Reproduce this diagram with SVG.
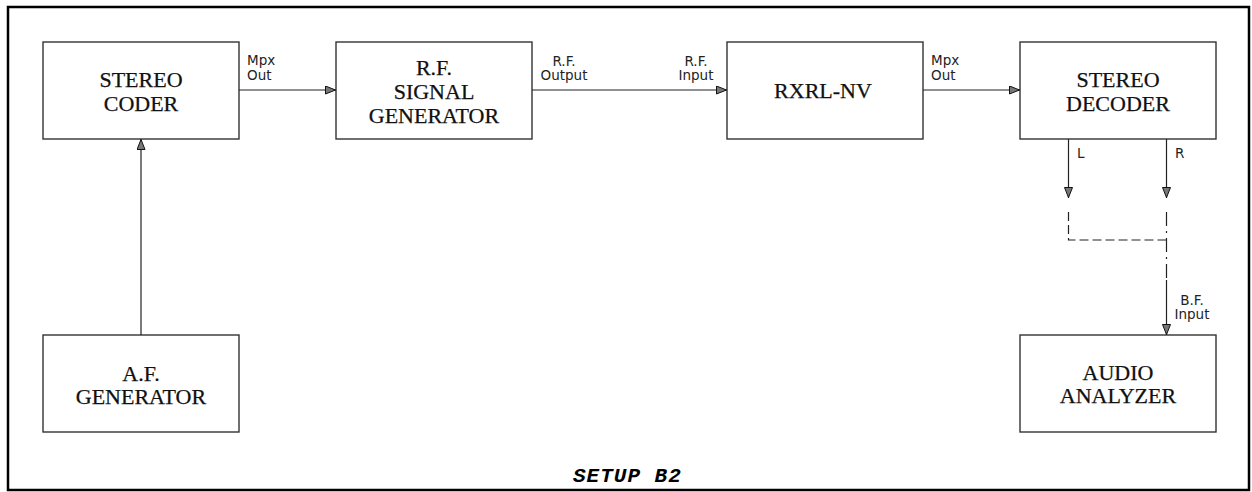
<svg xmlns="http://www.w3.org/2000/svg" width="1252" height="492" viewBox="0 0 1252 492">
  <style>
    .box { fill: #fff; stroke: #333; stroke-width: 1.4; }
    .t { font-family: "Liberation Serif", "Times New Roman", serif; font-size: 22px; fill: #111; stroke: #111; stroke-width: 0.25; text-anchor: middle; }
    .lbl { font-family: "DejaVu Sans", sans-serif; font-size: 13.5px; fill: #222; }
    .c { text-anchor: middle; }
    .w { stroke: #222; stroke-width: 1.2; fill: none; }
    .d { stroke: #222; stroke-width: 1.2; fill: none; stroke-dasharray: 9 4; }
    .dd { stroke: #222; stroke-width: 1.2; fill: none; stroke-dasharray: 14 5 2 5; }
  </style>
  <defs>
    <marker id="ah" viewBox="0 0 11 9" refX="11" refY="4.5" markerUnits="userSpaceOnUse" markerWidth="11" markerHeight="9" orient="auto">
      <path d="M0.5,0.5 L10.5,4.5 L0.5,8.5 Z" fill="#777" stroke="#111" stroke-width="1"/>
    </marker>
  </defs>
  <rect width="1252" height="492" fill="#fff"/>
  <rect id="frame" x="8" y="7" width="1241" height="483" fill="none" stroke="#000" stroke-width="2.5"/>

  <g id="stereo-coder">
    <rect class="box" x="43" y="42" width="196" height="97"/>
    <text class="t" x="141" y="87">STEREO</text>
    <text class="t" x="141" y="111">CODER</text>
  </g>
  <g id="rf-generator">
    <rect class="box" x="336" y="42" width="196" height="97"/>
    <text class="t" x="434" y="75">R.F.</text>
    <text class="t" x="434" y="99">SIGNAL</text>
    <text class="t" x="434" y="123">GENERATOR</text>
  </g>
  <g id="rxrl-nv">
    <rect class="box" x="727" y="42" width="196" height="97"/>
    <text class="t" x="823" y="98">RXRL-NV</text>
  </g>
  <g id="stereo-decoder">
    <rect class="box" x="1020" y="42" width="196" height="97"/>
    <text class="t" x="1118" y="87">STEREO</text>
    <text class="t" x="1118" y="111">DECODER</text>
  </g>
  <g id="af-generator">
    <rect class="box" x="43" y="335" width="196" height="97"/>
    <text class="t" x="141" y="381">A.F.</text>
    <text class="t" x="141" y="404">GENERATOR</text>
  </g>
  <g id="audio-analyzer">
    <rect class="box" x="1020" y="335" width="196" height="97"/>
    <text class="t" x="1118" y="380">AUDIO</text>
    <text class="t" x="1118" y="403">ANALYZER</text>
  </g>

  <g id="connectors">
    <line class="w" x1="239" y1="90" x2="336" y2="90" marker-end="url(#ah)"/>
    <line class="w" x1="532" y1="90" x2="727" y2="90" marker-end="url(#ah)"/>
    <line class="w" x1="923" y1="90" x2="1020" y2="90" marker-end="url(#ah)"/>
    <line class="w" x1="141" y1="335" x2="141" y2="139" marker-end="url(#ah)"/>
    <line class="w" x1="1068.5" y1="139" x2="1068.5" y2="198" marker-end="url(#ah)"/>
    <line class="w" x1="1166.5" y1="139" x2="1166.5" y2="198" marker-end="url(#ah)"/>
    <polyline class="d" points="1068.5,212 1068.5,240 1166.5,240"/>
    <line class="dd" x1="1166.5" y1="212" x2="1166.5" y2="280"/>
    <line class="w" x1="1166.5" y1="280" x2="1166.5" y2="335" marker-end="url(#ah)"/>
  </g>

  <g id="labels">
    <text class="lbl" x="247" y="65">Mpx</text>
    <text class="lbl" x="247" y="80">Out</text>
    <text class="lbl c" x="564" y="66">R.F.</text>
    <text class="lbl c" x="564" y="80">Output</text>
    <text class="lbl c" x="696" y="66">R.F.</text>
    <text class="lbl c" x="696" y="80">Input</text>
    <text class="lbl" x="931" y="65">Mpx</text>
    <text class="lbl" x="931" y="80">Out</text>
    <text class="lbl" x="1077" y="158">L</text>
    <text class="lbl" x="1175" y="158">R</text>
    <text class="lbl c" x="1192" y="305">B.F.</text>
    <text class="lbl c" x="1192" y="319">Input</text>
  </g>
  <text id="title" x="573" y="482" font-family="Liberation Mono, 'Courier New', monospace" font-size="21" font-weight="bold" font-style="italic" letter-spacing="1" fill="#000">SETUP B2</text>
</svg>
